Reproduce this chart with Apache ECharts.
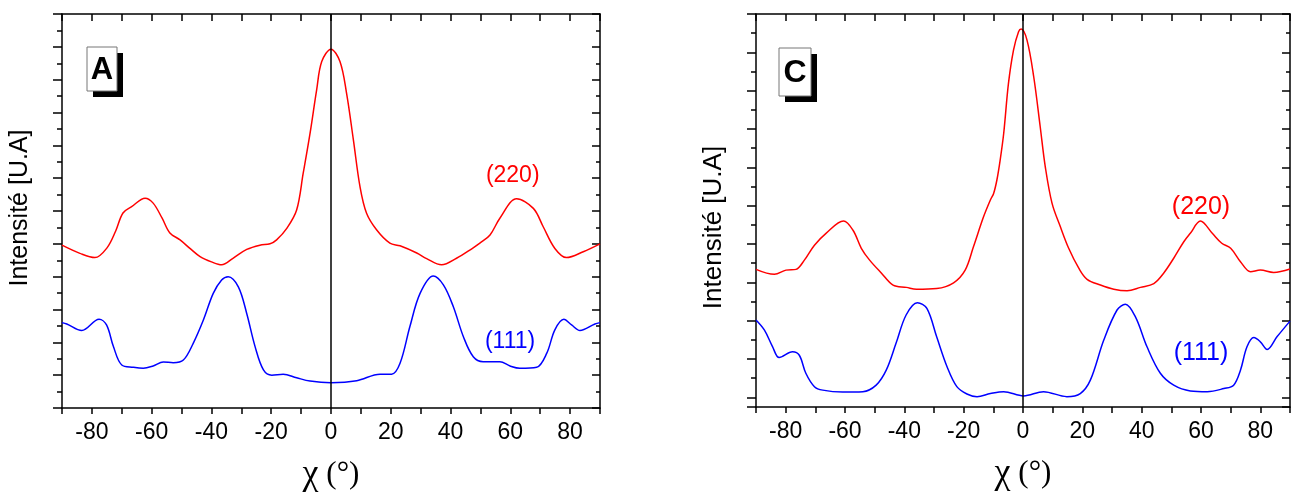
<!DOCTYPE html>
<html>
<head>
<meta charset="utf-8">
<script src="https://cdn.jsdelivr.net/npm/echarts@6/dist/echarts.min.js"></script>
<style>
html,body{margin:0;padding:0;background:#fff;}
#chart{width:1292px;height:493px;}
</style>
</head>
<body>
<div id="chart"></div>
<script>
// ---- Panel A data ----
const chiA220 = [-90, -84, -79, -75, -72, -69.6, -66.7, -62.2, -59.5, -56.5, -53.9, -50.5, -47.2, -43.8, -40, -36.6, -32.8, -28.2, -23.8, -20.4, -18.2, -14.8, -11.5, -9.3, -7.0, -4.8, -3.1, 0, 3.0, 5.2, 7.5, 9.7, 11.9, 15.3, 19.7, 23.1, 28.7, 32, 37.0, 42.0, 47.1, 49.8, 53.2, 56.5, 62.1, 67.7, 71.0, 74.9, 78.8, 84.4, 90];
const intA220 = [4.96, 4.71, 4.58, 4.87, 5.4, 5.94, 6.13, 6.39, 6.24, 5.78, 5.33, 5.12, 4.86, 4.61, 4.45, 4.36, 4.56, 4.83, 4.96, 5.0, 5.12, 5.47, 6.03, 7.15, 8.37, 9.69, 10.55, 10.93, 10.55, 9.59, 8.16, 6.74, 5.93, 5.42, 5.02, 4.94, 4.72, 4.55, 4.36, 4.56, 4.85, 5.02, 5.27, 5.78, 6.37, 6.08, 5.52, 4.86, 4.58, 4.76, 5.0];
const chiA111 = [-90, -88.4, -83.4, -77.6, -75.1, -72.8, -70.0, -66.1, -62.8, -59.5, -56.1, -52.8, -49.4, -46.1, -42.7, -39.4, -36.6, -34.4, -31.0, -28.2, -25.4, -22.6, -19.8, -16.0, -11.5, -7.0, 0, 8.6, 16.4, 20.3, 23.1, 26.4, 29.8, 34.2, 37.6, 40.9, 44.3, 47.6, 50.9, 56.5, 59.9, 63.2, 68.8, 72.2, 74.9, 77.9, 80.5, 83.3, 88.3, 90];
const intA111 = [2.6, 2.56, 2.36, 2.70, 2.53, 1.87, 1.31, 1.24, 1.21, 1.28, 1.40, 1.38, 1.46, 1.97, 2.68, 3.49, 3.90, 4.0, 3.69, 2.88, 1.87, 1.16, 1.0, 1.03, 0.92, 0.82, 0.77, 0.83, 1.03, 1.03, 1.36, 2.48, 3.49, 4.02, 3.75, 3.09, 2.17, 1.56, 1.41, 1.41, 1.28, 1.21, 1.24, 1.67, 2.38, 2.70, 2.53, 2.36, 2.56, 2.6];

// ---- Panel C data ----
const chiC220 = [-90, -83.8, -79.9, -76.5, -73.7, -70.3, -66.4, -60.5, -57.3, -54.5, -51.7, -47.7, -43.8, -39.3, -35.9, -29.1, -23.4, -19.5, -16.7, -13.3, -11.0, -9.9, -8.8, -7.7, -6.5, -4.9, -3.2, -1.5, -0.6, 1.35, 3.6, 5.8, 7.5, 9.8, 12.6, 15.4, 18.8, 21.6, 26.1, 30.6, 35.1, 39.6, 44.1, 47.4, 50.8, 54.2, 56.4, 59.8, 63.8, 67.0, 70.0, 73.3, 76.7, 80.0, 84.5, 90];
const intC220 = [3.34, 3.21, 3.32, 3.34, 3.58, 3.97, 4.28, 4.60, 4.36, 3.89, 3.58, 3.24, 2.93, 2.87, 2.82, 2.84, 2.99, 3.32, 3.93, 4.71, 5.15, 5.32, 5.67, 6.19, 6.89, 8.19, 9.06, 9.54, 9.61, 9.32, 8.37, 7.06, 6.02, 5.06, 4.45, 3.89, 3.37, 3.08, 2.93, 2.82, 2.78, 2.87, 2.97, 3.24, 3.63, 4.06, 4.28, 4.60, 4.28, 4.02, 3.89, 3.54, 3.28, 3.32, 3.26, 3.35];
const chiC111 = [-90, -87.2, -84.4, -82.2, -77.7, -75.4, -73.2, -70.3, -67.5, -60.8, -54.0, -49.5, -46.1, -42.8, -39.4, -35.6, -32.4, -29.1, -25.6, -22.3, -18.9, -15.5, -11.0, -6.5, 0.2, 6.9, 14.8, 19.3, 22.7, 27.2, 31.7, 34.5, 37.9, 41.8, 46.3, 50.8, 56.4, 62.1, 67.7, 71.0, 73.3, 75.5, 77.8, 80.0, 82.3, 85.6, 90];
const intC111 = [2.02, 1.76, 1.32, 1.04, 1.19, 1.10, 0.63, 0.28, 0.19, 0.14, 0.15, 0.32, 0.71, 1.41, 2.15, 2.47, 2.32, 1.58, 0.80, 0.28, 0.09, 0.02, 0.10, 0.15, 0.04, 0.15, 0.02, 0.10, 0.45, 1.49, 2.28, 2.43, 2.10, 1.32, 0.63, 0.32, 0.17, 0.15, 0.23, 0.32, 0.71, 1.32, 1.56, 1.45, 1.25, 1.58, 1.99];

// labels
const xTickLabels = [-80, -60, -40, -20, 0, 20, 40, 60, 80];
const yName = 'Intensité [U.A]';
const xName = '{c|χ}{p| (°)}';
const panelLabels = ['A', 'C'];
const peakNames = ['(220)', '(111)'];
const peakPosA = [[60.8, 7.07], [59.9, 2.01]];
const peakPosC = [[60.0, 4.97], [60.0, 1.15]];

function zip(xs, ys) { return xs.map((x, i) => [x, ys[i]]); }

const RED = '#ff0000', BLUE = '#0000ff', BLACK = '#000000';
const SANS = '"Liberation Sans", Arial, Helvetica, sans-serif';
const SERIF = '"Liberation Serif", "Times New Roman", serif';

function bottomX(gridIndex) {
  return {
    type: 'value', gridIndex, position: 'bottom', min: -90, max: 90, interval: 10,
    axisLine: { show: true, onZero: false, lineStyle: { color: BLACK, width: 1.5 } },
    axisTick: { show: true, inside: false, length: 6, lineStyle: { color: BLACK, width: 1.5 } },
    axisLabel: {
      show: true, margin: 13, fontSize: 23, color: BLACK, fontFamily: SANS,
      formatter: v => (xTickLabels.indexOf(v) >= 0 ? String(v) : '')
    },
    splitLine: { show: false },
    name: xName, nameLocation: 'middle', nameGap: 49,
    nameTextStyle: {
      color: BLACK,
      rich: {
        c: { fontFamily: SERIF, fontSize: 36, color: BLACK },
        p: { fontFamily: SERIF, fontSize: 31, color: BLACK }
      }
    }
  };
}
function topX(gridIndex) {
  return {
    type: 'value', gridIndex, position: 'top', min: -90, max: 90, interval: 10,
    axisLine: { show: true, onZero: false, lineStyle: { color: BLACK, width: 1.5 } },
    axisTick: { show: true, inside: true, length: 7, lineStyle: { color: BLACK, width: 1.5 } },
    axisLabel: { show: false }, splitLine: { show: false }
  };
}
function sideY(gridIndex, pos, min, max, inverse, extra) {
  const left = pos === 'left';
  return Object.assign({
    type: 'value', gridIndex, position: pos, min, max, interval: 1, inverse,
    axisLine: { show: true, onZero: false, lineStyle: { color: BLACK, width: 1.5 } },
    axisTick: { show: true, inside: !left, length: left ? 9 : 8, lineStyle: { color: BLACK, width: 1.5 } },
    minorTick: { show: true, splitNumber: 2, length: left ? 5 : 4, lineStyle: { color: BLACK, width: 1.5 } },
    axisLabel: { show: false }, splitLine: { show: false }, minorSplitLine: { show: false }
  }, extra || {});
}

function lineSeries(name, xs, ys, color, xi, yi, extra) {
  return Object.assign({
    type: 'line', name, data: zip(xs, ys), xAxisIndex: xi, yAxisIndex: yi,
    showSymbol: false, symbol: 'none', smooth: 0.35,
    lineStyle: { color, width: 1.5 }, itemStyle: { color },
    animation: false, silent: true, z: 3
  }, extra || {});
}
function zeroLine() {
  return {
    silent: true, symbol: ['none', 'none'], animation: false,
    label: { show: false },
    lineStyle: { color: BLACK, width: 1.5, type: 'solid' },
    data: [{ xAxis: 0 }]
  };
}
function peakLabel(text, pos, color, size) {
  return {
    symbol: 'circle', symbolSize: 0, animation: false, silent: true,
    label: { show: true, position: 'inside', formatter: text, color, fontSize: size, fontFamily: SANS },
    itemStyle: { color: 'transparent' },
    data: [{ coord: pos }]
  };
}

const option = {
  backgroundColor: '#ffffff',
  animation: false,
  grid: [
    { left: 62, right: 692, top: 14, bottom: 85, containLabel: false, outerBoundsMode: 'none' },
    { left: 756, right: 2, top: 14, bottom: 86, containLabel: false, outerBoundsMode: 'none' }
  ],
  xAxis: [bottomX(0), topX(0), bottomX(1), topX(1)],
  yAxis: [
    sideY(0, 'left', 0, 12, false, {
      name: yName, nameLocation: 'middle', nameGap: 29,
      nameTextStyle: { fontSize: 25, color: BLACK, fontFamily: SANS, padding: [0, 0, 0, 6] }
    }),
    sideY(0, 'right', 0, 12, false),
    sideY(1, 'left', 0, 10.25, true, {
      name: yName, nameLocation: 'middle', nameGap: 29,
      nameTextStyle: { fontSize: 26, color: BLACK, fontFamily: SANS, padding: [0, 34, 0, 0] }
    }),
    sideY(1, 'right', 0, 10.25, true),
    { type: 'value', gridIndex: 1, position: 'left', min: -0.25, max: 10, show: false }
  ],
  series: [
    lineSeries('(220) A', chiA220, intA220, RED, 0, 0, {
      markLine: zeroLine(), markPoint: peakLabel(peakNames[0], peakPosA[0], RED, 23)
    }),
    lineSeries('(111) A', chiA111, intA111, BLUE, 0, 0, {
      markPoint: peakLabel(peakNames[1], peakPosA[1], BLUE, 23)
    }),
    lineSeries('(220) C', chiC220, intC220, RED, 2, 4, {
      markLine: zeroLine(), markPoint: peakLabel(peakNames[0], peakPosC[0], RED, 25)
    }),
    lineSeries('(111) C', chiC111, intC111, BLUE, 2, 4, {
      markPoint: peakLabel(peakNames[1], peakPosC[1], BLUE, 25)
    })
  ],
  graphic: [
    { type: 'rect', shape: { x: 93, y: 53, width: 30, height: 44 }, style: { fill: BLACK }, z: 10 },
    { type: 'rect', shape: { x: 87, y: 47, width: 30, height: 44 }, style: { fill: '#fff', stroke: '#777', lineWidth: 1 }, z: 11 },
    { type: 'text', x: 102, y: 70, style: { text: panelLabels[0], fill: BLACK, font: 'bold 31px ' + SANS, textAlign: 'center', textVerticalAlign: 'middle' }, z: 12 },
    { type: 'rect', shape: { x: 785, y: 54, width: 32, height: 48 }, style: { fill: BLACK }, z: 10 },
    { type: 'rect', shape: { x: 779, y: 48, width: 32, height: 48 }, style: { fill: '#fff', stroke: '#777', lineWidth: 1 }, z: 11 },
    { type: 'text', x: 795, y: 73, style: { text: panelLabels[1], fill: BLACK, font: 'bold 32px ' + SANS, textAlign: 'center', textVerticalAlign: 'middle' }, z: 12 }
  ]
};

const chart = echarts.init(document.getElementById('chart'), null, { renderer: 'canvas' });
chart.setOption(option);
</script>
</body>
</html>
